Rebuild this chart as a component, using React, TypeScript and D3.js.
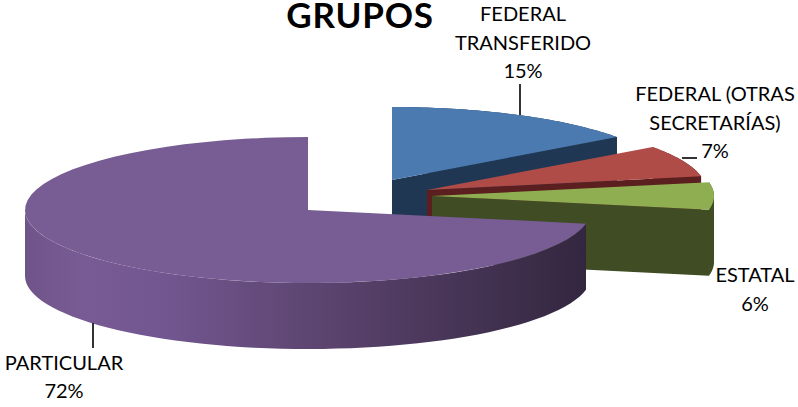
import React from "react";
import * as d3 from "d3";

const categories = ["FEDERAL TRANSFERIDO", "FEDERAL (OTRAS SECRETARÍAS)", "ESTATAL", "PARTICULAR"];
const shares = [15, 7, 6, 72];
const topColors = ["#4a7ab0", "#b04c48", "#8fae52", "#785c94"];
const sideColors = ["#1f3752", "#5a1f1e", "#3f4c24", "url(#purpleSide)"];
const centers: [number, number][] = [[392, 180], [427, 190], [432, 196], [308, 210]];
const radii = [278, 279, 282, 283];
const labelLines = [["FEDERAL", "TRANSFERIDO", "15%"], ["FEDERAL (OTRAS", "SECRETARÍAS)", "7%"], ["ESTATAL", "6%"], ["PARTICULAR", "72%"]];
const labelAnchors: [number, number][] = [[523, 21], [715, 101], [755, 282], [64, 370]];
const labelSteps = [28.5, 28.5, 28.5, 28];
const leaders: [number, number, number, number][] = [[520, 84, 520, 115], [682, 158, 697, 158], [93, 323, 93, 348]];

const W = 798, H = 407, RY = 73, DEPTH = 66;

const line = d3.line<[number, number]>();

function sample(a0: number, a1: number) {
  return d3.range(0, 61).map((i) => a0 + ((a1 - a0) * i) / 60);
}

export default function App() {
  const arcs = d3.pie<number>().sort(null)(shares);
  return (
    <svg width={W} height={H} style={{ position: "absolute", left: 0, top: 0, background: "#fff" }}>
      <defs>
        <linearGradient id="purpleSide" gradientUnits="userSpaceOnUse" x1={25} x2={587} y1={0} y2={0}>
          <stop offset="0" stopColor="#6f5489" />
          <stop offset="0.1" stopColor="#785b94" />
          <stop offset="0.25" stopColor="#725690" />
          <stop offset="0.5" stopColor="#5e4672" />
          <stop offset="0.8" stopColor="#443353" />
          <stop offset="1" stopColor="#33263f" />
        </linearGradient>
      </defs>
      {arcs.map((a, i) => {
        const c = centers[i];
        const pt = (t: number, dy = 0): [number, number] => [c[0] + radii[i] * Math.sin(t), c[1] - RY * Math.cos(t) + dy];
        const top = sample(a.startAngle, a.endAngle).map((t) => pt(t));
        const rimAngles = sample(Math.max(a.startAngle, Math.PI / 2), Math.min(a.endAngle, (3 * Math.PI) / 2));
        const hasRim = a.endAngle > Math.PI / 2;
        const rimTop = rimAngles.map((t) => pt(t));
        const rimBottom = rimAngles.map((t) => pt(t, DEPTH)).reverse();
        const end = i < 3 ? a.endAngle : a.startAngle;
        const cut: [number, number][] = [c, pt(end), pt(end, DEPTH), [c[0], c[1] + DEPTH]];
        const rightRim = sample(a.startAngle, Math.min(a.endAngle, Math.PI / 2));
        return (
          <g key={categories[i]}>
            {i < 3 && <path d={line(cut) + "Z"} fill={sideColors[i]} />}
            {i < 3 && <path d={line([...rightRim.map((t) => pt(t)), ...rightRim.map((t) => pt(t, DEPTH)).reverse()]) + "Z"} fill={sideColors[i]} />}
            {hasRim && <path d={line([...rimTop, ...rimBottom]) + "Z"} fill={sideColors[i]} />}
            <path d={line([c, ...top]) + "Z"} fill={topColors[i]} />
          </g>
        );
      })}
      {leaders.map((l, i) => (
        <line key={i} x1={l[0]} y1={l[1]} x2={l[2]} y2={l[3]} stroke="#000" strokeWidth={1.6} />
      ))}
      <text x={360} y={28} textAnchor="middle" fontFamily="Lato" fontWeight={700} fontSize={35} letterSpacing={0.8} fill="#000">GRUPOS</text>
      {labelLines.map((ls, i) =>
        ls.map((s, j) => (
          <text key={s} x={labelAnchors[i][0]} y={labelAnchors[i][1] + j * labelSteps[i]} textAnchor="middle" fontFamily="Lato" fontSize={20} fill="#000">{s}</text>
        ))
      )}
    </svg>
  );
}
